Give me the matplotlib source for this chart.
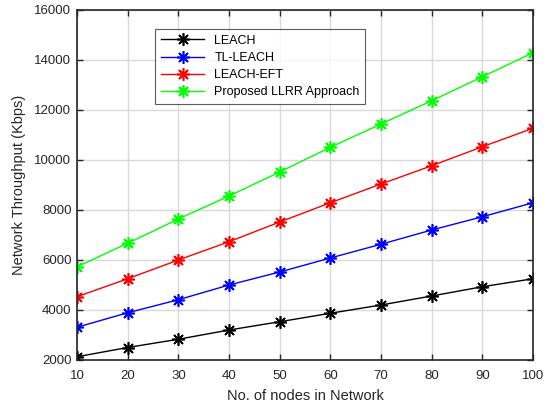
import matplotlib
matplotlib.use("Agg")
import matplotlib.pyplot as plt

nodes = [10, 20, 30, 40, 50, 60, 70, 80, 90, 100]
leach = [2130, 2500, 2830, 3200, 3530, 3870, 4200, 4560, 4930, 5250]
tl_leach = [3310, 3890, 4410, 5000, 5520, 6080, 6630, 7200, 7730, 8290]
leach_eft = [4530, 5250, 6000, 6730, 7520, 8290, 9040, 9770, 10530, 11270]
llrr = [5730, 6670, 7640, 8560, 9520, 10510, 11440, 12370, 13330, 14290]
series_names = ["LEACH", "TL-LEACH", "LEACH-EFT", "Proposed LLRR Approach"]
colors = ["#000000", "#0000ff", "#ff0000", "#00ff00"]
xticks = [10, 20, 30, 40, 50, 60, 70, 80, 90, 100]
yticks = [2000, 4000, 6000, 8000, 10000, 12000, 14000, 16000]

plt.rcParams['font.family'] = ['Liberation Sans', 'DejaVu Sans']

fig = plt.figure(figsize=(5.51, 4.05), dpi=100)
ax = fig.add_axes([77/551, 1 - 360/405, (533-77)/551, (360-10)/405])

for vals, name, c in zip([leach, tl_leach, leach_eft, llrr], series_names, colors):
    ax.plot(nodes, vals, color=c, marker=(8, 2, 0), markersize=9, linewidth=1,
            markeredgewidth=1.2, label=name)

ax.set_xlim(10, 100)
ax.set_ylim(2000, 16000)
ax.set_xticks(xticks)
ax.set_yticks(yticks)
ax.grid(True, color='#d9d9d9', linewidth=1)
ax.set_axisbelow(True)
ax.tick_params(direction='in', length=4, width=1, labelsize=9.5, colors='#262626',
               top=True, right=True)
ax.tick_params(axis='x', pad=7)
ax.tick_params(axis='y', pad=4)
for s in ax.spines.values():
    s.set_linewidth(1.2)
    s.set_color('#262626')
ax.set_xlabel("No. of nodes in Network", fontsize=10.5, color='#262626', labelpad=5)
ax.set_ylabel("Network Throughput (Kbps)", fontsize=10.5, color='#262626', labelpad=6)

leg = ax.legend(loc='upper left', bbox_to_anchor=((155-77)/456, 1 - (29-10)/350),
                fontsize=9, frameon=True, fancybox=False, edgecolor='#333333',
                borderpad=0.45, handlelength=3.5, labelspacing=0.42, borderaxespad=0)
leg.get_frame().set_linewidth(0.8)

fig.savefig("out.png", dpi=100)
